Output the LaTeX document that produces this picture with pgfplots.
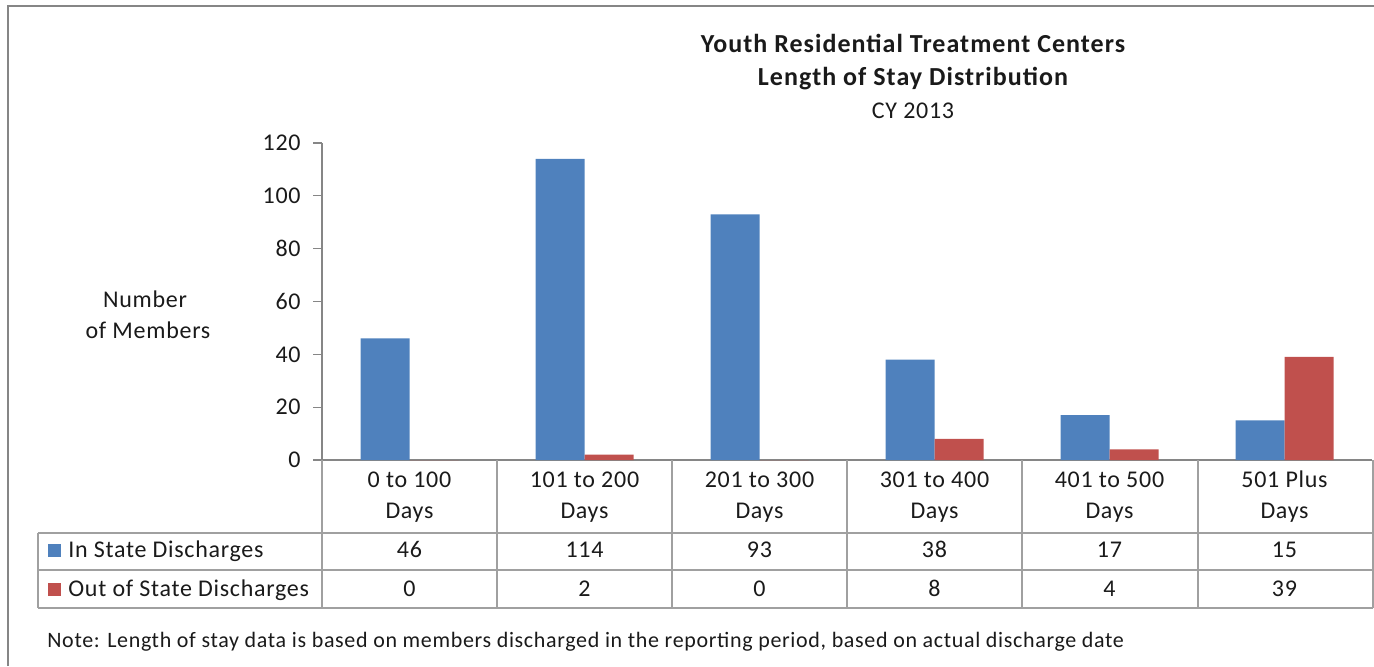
\documentclass[border=0pt]{standalone}
\usepackage{pgfplots}
\usepackage{pgfplotstable}
\pgfplotsset{compat=1.18}
\usepackage{fontspec}
\setmainfont{Carlito}
\definecolor{blu}{HTML}{4F81BD}
\definecolor{rd}{HTML}{C0504D}
\definecolor{axgray}{HTML}{868686}
\definecolor{tblgray}{HTML}{A0A0A0}
\definecolor{txt}{HTML}{1A1A1A}
\newcommand{\bodyfont}{\fontsize{12}{14}\selectfont\addfontfeatures{LetterSpace=3}}

\pgfplotstableread{
x in out
0 46 0
1 114 2
2 93 0
3 38 8
4 17 4
5 15 39
}\datatable

\begin{document}
\bodyfont
\begin{tikzpicture}
\begin{axis}[
  at={(0,0)}, anchor=south west,
  scale only axis, width=525pt, height=158.5pt,
  xmin=-0.5, xmax=5.5, ymin=0, ymax=120,
  ybar=0pt, bar width=24.5pt,
  axis x line*=bottom, axis y line*=left,
  axis line style={axgray, line width=0.6pt, -},
  xtick={0,...,5},
  xticklabels={{\vphantom{l}0 to 100\\Days},{\vphantom{l}101 to 200\\Days},{\vphantom{l}201 to 300\\Days},{\vphantom{l}301 to 400\\Days},{\vphantom{l}401 to 500\\Days},{\vphantom{l}501 Plus\\Days}},
  x tick style={draw=none},
  xticklabel style={align=center, anchor=north, inner sep=0pt, yshift=-0.5pt, font=\fontsize{12}{15.5}\selectfont\addfontfeatures{LetterSpace=3}, text=txt},
  ytick={0,20,...,120},
  tick align=outside,
  major tick length=4.5pt,
  y tick style={axgray, line width=0.6pt},
  yticklabel style={anchor=east, inner sep=0pt, xshift=-6pt, font=\bodyfont, text=txt},
  /pgf/number format/assume math mode=true,
  clip=false,
]
\addplot[fill=blu, draw=none] table[x=x, y=in]{\datatable};
\addplot[fill=rd, draw=none] table[x=x, y=out]{\datatable};
\end{axis}

\begin{scope}[x=0.5pt, y=-0.5pt, shift={(-322,-460)}]
\useasboundingbox (0,0) rectangle (1374,666);
% outer frame
\draw[color=axgray, line width=1pt] (8,666) -- (8,6) -- (1374,6);
% data table grid
\foreach \X in {322,497,672,847,1022,1198,1373}
  \draw[tblgray, line width=0.6pt] (\X,460) -- (\X,608);
\draw[tblgray, line width=0.6pt] (38,533) -- (38,608);
\foreach \Y in {533,570,608}
  \draw[tblgray, line width=0.6pt] (38,\Y) -- (1373,\Y);
% legend keys
\fill[blu] (48,544) rectangle (61,557);
\fill[rd] (48,583) rectangle (61,596);
\node[anchor=base west, inner sep=0pt, text=txt] at (68,557) {In State Discharges};
\node[anchor=base west, inner sep=0pt, text=txt] at (68,596) {Out of State Discharges};
% values
\foreach \i in {0,...,5} {
  \pgfplotstablegetelem{\i}{in}\of\datatable
  \node[anchor=base, inner sep=0pt, text=txt] at ({409.5+175*\i},557) {\pgfplotsretval};
  \pgfplotstablegetelem{\i}{out}\of\datatable
  \node[anchor=base, inner sep=0pt, text=txt] at ({409.5+175*\i},596) {\pgfplotsretval};
}
% titles
\node[anchor=base, inner sep=0pt, font=\fontsize{13}{15}\selectfont\bfseries\addfontfeatures{LetterSpace=4}, text=txt] at (913,52) {Youth Residential Treatment Centers};
\node[anchor=base, inner sep=0pt, font=\fontsize{13}{15}\selectfont\bfseries\addfontfeatures{LetterSpace=4}, text=txt] at (913,85) {Length of Stay Distribution};
\node[anchor=base, inner sep=0pt, text=txt] at (913,118) {CY 2013};
% y label
\node[anchor=base, inner sep=0pt, text=txt] at (145,307) {Number};
\node[anchor=base, inner sep=0pt, text=txt] at (148,338) {of Members};
% note
\node[anchor=base west, inner sep=0pt, text=txt, font=\fontsize{11}{13}\selectfont\addfontfeatures{LetterSpace=3}] at (47,647) {Note: Length of stay data is based on members discharged in the reporting period, based on actual discharge date};
\end{scope}
\end{tikzpicture}
\end{document}
